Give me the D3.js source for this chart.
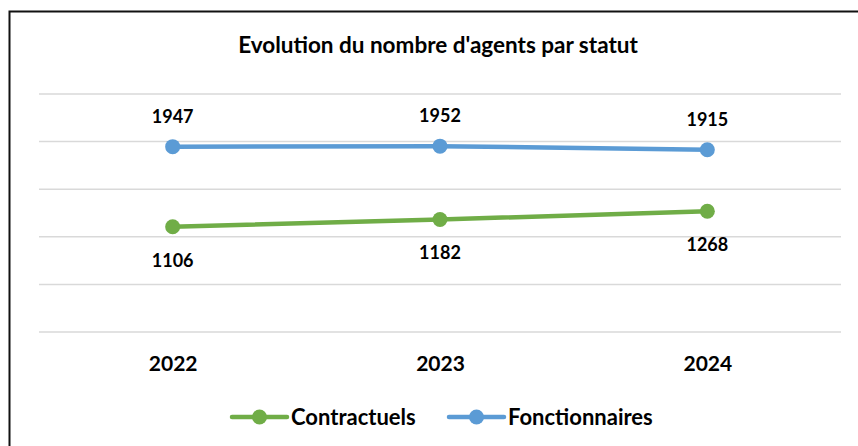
<!DOCTYPE html>
<html>
<head>
  <meta charset="utf-8">
  <title>Evolution du nombre d'agents par statut</title>
  <style>
    body { margin: 0; background: #fff; }
    svg { display: block; }
    text { font-family: Lato, "Open Sans", sans-serif; font-weight: bold; fill: #000; }
  </style>
  <script src="https://cdn.jsdelivr.net/npm/d3@7"></script>
</head>
<body>
<div id="chart"></div>
<script>

var width = 858,
    height = 446;

// data
var years = ["2022", "2023", "2024"];
var contractuels = [1106, 1182, 1268];
var fonctionnaires = [1947, 1952, 1915];
var gridTicks = [0, 500, 1000, 1500, 2000, 2500];

var series = [
  {name: "Contractuels", values: contractuels, color: "#70ad47", labelPos: "below"},
  {name: "Fonctionnaires", values: fonctionnaires, color: "#5b9bd5", labelPos: "above"}
];

var svg = d3.select("#chart").append("svg")
  .attr("width", width)
  .attr("height", height);

// chart frame (cropped at right and bottom)
svg.append("path")
  .attr("d", "M9.5," + height + "V11.5H" + width)
  .attr("fill", "none")
  .attr("stroke", "#111")
  .attr("stroke-width", 2);

var x = d3.scalePoint()
  .domain(years)
  .range([39, 841])
  .padding(0.5);

var y = d3.scaleLinear()
  .domain([0, 2500])
  .range([332, 94]);

// title
svg.append("text")
  .attr("x", 438)
  .attr("y", 53)
  .attr("text-anchor", "middle")
  .style("font-size", "22.5px")
  .text("Evolution du nombre d'agents par statut");

// gridlines
svg.append("g")
  .selectAll("line")
  .data(gridTicks)
  .join("line")
  .attr("x1", 39)
  .attr("x2", 841)
  .attr("y1", function(d) { return y(d); })
  .attr("y2", function(d) { return y(d); })
  .attr("stroke", "#d9d9d9")
  .attr("stroke-width", 1.5);

// x axis labels
var xAxis = svg.append("g")
  .attr("transform", "translate(0,371)")
  .call(d3.axisBottom(x).tickSize(0).tickPadding(0));
xAxis.select(".domain").remove();
xAxis.selectAll("text")
  .attr("dy", 0)
  .style("font-size", "21px")
  .style("font-family", "Lato, sans-serif")
  .style("font-weight", "bold")
  .attr("fill", "#000");

var line = d3.line()
  .x(function(d, i) { return x(years[i]); })
  .y(function(d) { return y(d); });

series.forEach(function(s) {
  var g = svg.append("g");

  g.append("path")
    .datum(s.values)
    .attr("d", line)
    .attr("fill", "none")
    .attr("stroke", s.color)
    .attr("stroke-width", 4.5)
    .attr("stroke-linecap", "round");

  g.selectAll("circle")
    .data(s.values)
    .join("circle")
    .attr("cx", function(d, i) { return x(years[i]); })
    .attr("cy", function(d) { return y(d); })
    .attr("r", 7.5)
    .attr("fill", s.color);

  g.selectAll("text")
    .data(s.values)
    .join("text")
    .attr("x", function(d, i) { return x(years[i]); })
    .attr("y", function(d) { return s.labelPos === "above" ? y(d) - 24 : y(d) + 40; })
    .attr("text-anchor", "middle")
    .style("font-size", "18px")
    .text(function(d) { return d; });
});

// legend
var legendItems = [
  {name: "Contractuels", color: "#70ad47", x: 232},
  {name: "Fonctionnaires", color: "#5b9bd5", x: 449}
];

var legend = svg.append("g").attr("transform", "translate(0,417)");

legendItems.forEach(function(d) {
  var item = legend.append("g").attr("transform", "translate(" + d.x + ",0)");
  item.append("line")
    .attr("x1", 0)
    .attr("x2", 55)
    .attr("stroke", d.color)
    .attr("stroke-width", 4.5)
    .attr("stroke-linecap", "round");
  item.append("circle")
    .attr("cx", 27.5)
    .attr("r", 7.5)
    .attr("fill", d.color);
  item.append("text")
    .attr("x", 59)
    .attr("y", 7.5)
    .style("font-size", "22px")
    .text(d.name);
});

</script>
</body>
</html>
